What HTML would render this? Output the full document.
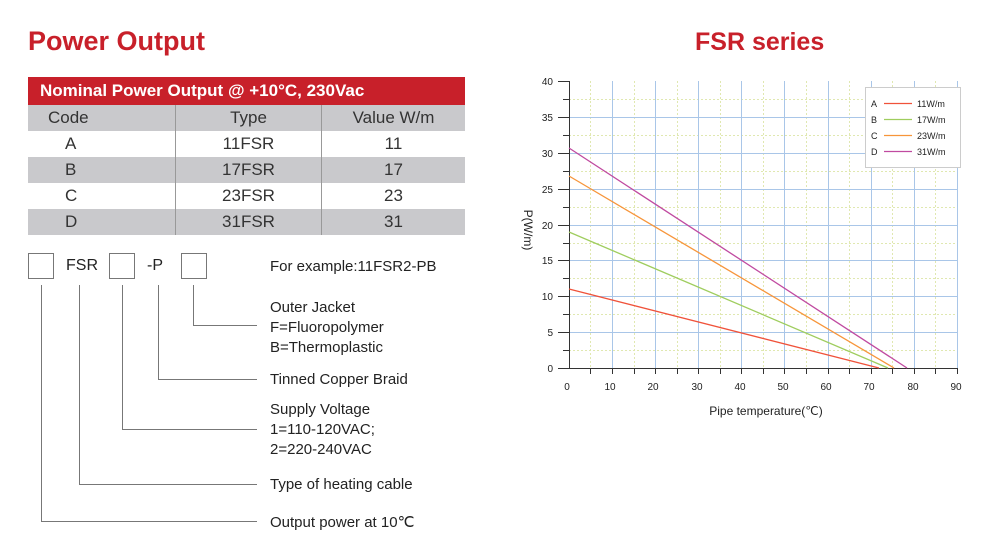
<!DOCTYPE html><html><head><style>
body{margin:0;width:1003px;height:554px;background:#fff;font-family:"Liberation Sans",sans-serif;position:relative;overflow:hidden}
.a{position:absolute}
.t{position:absolute;font-size:15px;color:#222;white-space:nowrap}
table{border-collapse:collapse;position:absolute;left:28px;top:77px;width:437px;font-size:17px;color:#333}
td{text-align:center;height:26px;padding:0;border-left:1px solid #999}
td:first-child{border-left:none}
.g td{background:#c9c9cc}
</style></head><body>
<div class="a" style="left:28px;top:26px;font-size:27px;font-weight:bold;color:#c8202a">Power Output</div>
<div class="a" style="left:695px;top:28px;font-size:25px;font-weight:bold;color:#c8202a">FSR series</div>
<table>
<tr><td colspan="3" style="background:#c8202a;color:#fff;font-weight:bold;text-align:left;padding-left:12px;height:28px">Nominal Power Output @ +10°C, 230Vac</td></tr>
<tr class="g"><td style="text-align:left;padding-left:20px;width:127px">Code</td><td style="width:145px">Type</td><td>Value W/m</td></tr>
<tr><td style="text-align:left;padding-left:37px">A</td><td>11FSR</td><td>11</td></tr>
<tr class="g"><td style="text-align:left;padding-left:37px">B</td><td>17FSR</td><td>17</td></tr>
<tr><td style="text-align:left;padding-left:37px">C</td><td>23FSR</td><td>23</td></tr>
<tr class="g"><td style="text-align:left;padding-left:37px">D</td><td>31FSR</td><td>31</td></tr>
</table>
<svg class="a" style="left:0;top:0" width="480" height="554">
<g fill="none" stroke="#777" stroke-width="1">
<rect x="28.5" y="253.5" width="25" height="25"/><rect x="109.5" y="253.5" width="25" height="25"/><rect x="181.5" y="253.5" width="25" height="25"/>
<path d="M41.5 285V521.5H257M79.5 285V484.5H257M122.5 285V429.5H257M158.5 285V379.5H257M193.5 285V325.5H257"/>
</g></svg>
<div class="t" style="left:66px;top:257px;font-size:16px">FSR</div>
<div class="t" style="left:147px;top:257px;font-size:16px">-P</div>
<div class="t" style="left:270px;top:258px">For example:11FSR2-PB</div>
<div class="t" style="left:270px;top:298px;line-height:20px">Outer Jacket<br>F=Fluoropolymer<br>B=Thermoplastic</div>
<div class="t" style="left:270px;top:371px">Tinned Copper Braid</div>
<div class="t" style="left:270px;top:400px;line-height:20px">Supply Voltage<br>1=110-120VAC;<br>2=220-240VAC</div>
<div class="t" style="left:270px;top:476px">Type of heating cable</div>
<div class="t" style="left:270px;top:513px">Output power at 10℃</div>
<svg class="a" style="left:0;top:0" width="1003" height="554" font-family="Liberation Sans,sans-serif" font-size="10">
<g fill="none">
<g stroke="#e0e8b0" stroke-dasharray="2,2" stroke-width="1">
<path d="M590.5 81V368M634.5 81V368M677.5 81V368M720.5 81V368M763.5 81V368M806.5 81V368M849.5 81V368M892.5 81V368M935.5 81V368"/>
<path d="M569 99.5H957M569 135.5H957M569 171.5H957M569 207.5H957M569 243.5H957M569 278.5H957M569 314.5H957M569 350.5H957"/>
</g>
<g stroke="#a9c6e8" stroke-width="1">
<path d="M612.5 81V368M655.5 81V368M698.5 81V368M741.5 81V368M784.5 81V368M828.5 81V368M871.5 81V368M914.5 81V368M957.5 81V368"/>
<path d="M569 117.5H957M569 153.5H957M569 189.5H957M569 225.5H957M569 260.5H957M569 296.5H957M569 332.5H957"/>
</g>
<g stroke="#333" stroke-width="1">
<path d="M569.5 81V368.5H957M558 81.5H569M558 117.5H569M558 153.5H569M558 189.5H569M558 225.5H569M558 260.5H569M558 296.5H569M558 332.5H569M558 368.5H569"/>
<path d="M563 99.5H569M563 135.5H569M563 171.5H569M563 207.5H569M563 243.5H569M563 278.5H569M563 314.5H569M563 350.5H569"/>
<path d="M590.5 368V374M612.5 368V374M634.5 368V374M655.5 368V374M677.5 368V374M698.5 368V374M720.5 368V374M741.5 368V374M763.5 368V374M784.5 368V374M806.5 368V374M828.5 368V374M849.5 368V374M871.5 368V374M892.5 368V374M914.5 368V374M935.5 368V374M957.5 368V374"/>
</g>
<g stroke-width="1.3">
<path d="M569 289L879 368" stroke="#f0523a"/>
<path d="M569 232L888 368" stroke="#9fcd5e"/>
<path d="M569 176L894 368" stroke="#f7953a"/>
<path d="M569 148L907 368" stroke="#c04aa0"/>
</g>
</g>
<g fill="#222">
<g text-anchor="end"><text x="553" y="85">40</text><text x="553" y="121">35</text><text x="553" y="157">30</text><text x="553" y="193">25</text><text x="553" y="229">20</text><text x="553" y="264">15</text><text x="553" y="300">10</text><text x="553" y="336">5</text><text x="553" y="372">0</text></g>
<g text-anchor="middle"><text x="567" y="390">0</text><text x="610" y="390">10</text><text x="653" y="390">20</text><text x="697" y="390">30</text><text x="740" y="390">40</text><text x="783" y="390">50</text><text x="826" y="390">60</text><text x="869" y="390">70</text><text x="913" y="390">80</text><text x="956" y="390">90</text></g>
<text x="766" y="415" text-anchor="middle" font-size="12">Pipe temperature(℃)</text>
<text transform="translate(524,230) rotate(90)" text-anchor="middle" font-size="12">P(W/m)</text>
</g>
<rect x="865.5" y="87.5" width="95" height="80" fill="#fff" stroke="#ccc"/>
<g font-size="9" fill="#222"><text x="871" y="107">A</text><text x="871" y="123">B</text><text x="871" y="139">C</text><text x="871" y="155">D</text>
<text x="917" y="107">11W/m</text><text x="917" y="123">17W/m</text><text x="917" y="139">23W/m</text><text x="917" y="155">31W/m</text></g>
<g stroke-width="1.3"><path d="M884 103.5H912" stroke="#f0523a"/><path d="M884 119.5H912" stroke="#9fcd5e"/><path d="M884 135.5H912" stroke="#f7953a"/><path d="M884 151.5H912" stroke="#c04aa0"/></g>
</svg>
</body></html>
